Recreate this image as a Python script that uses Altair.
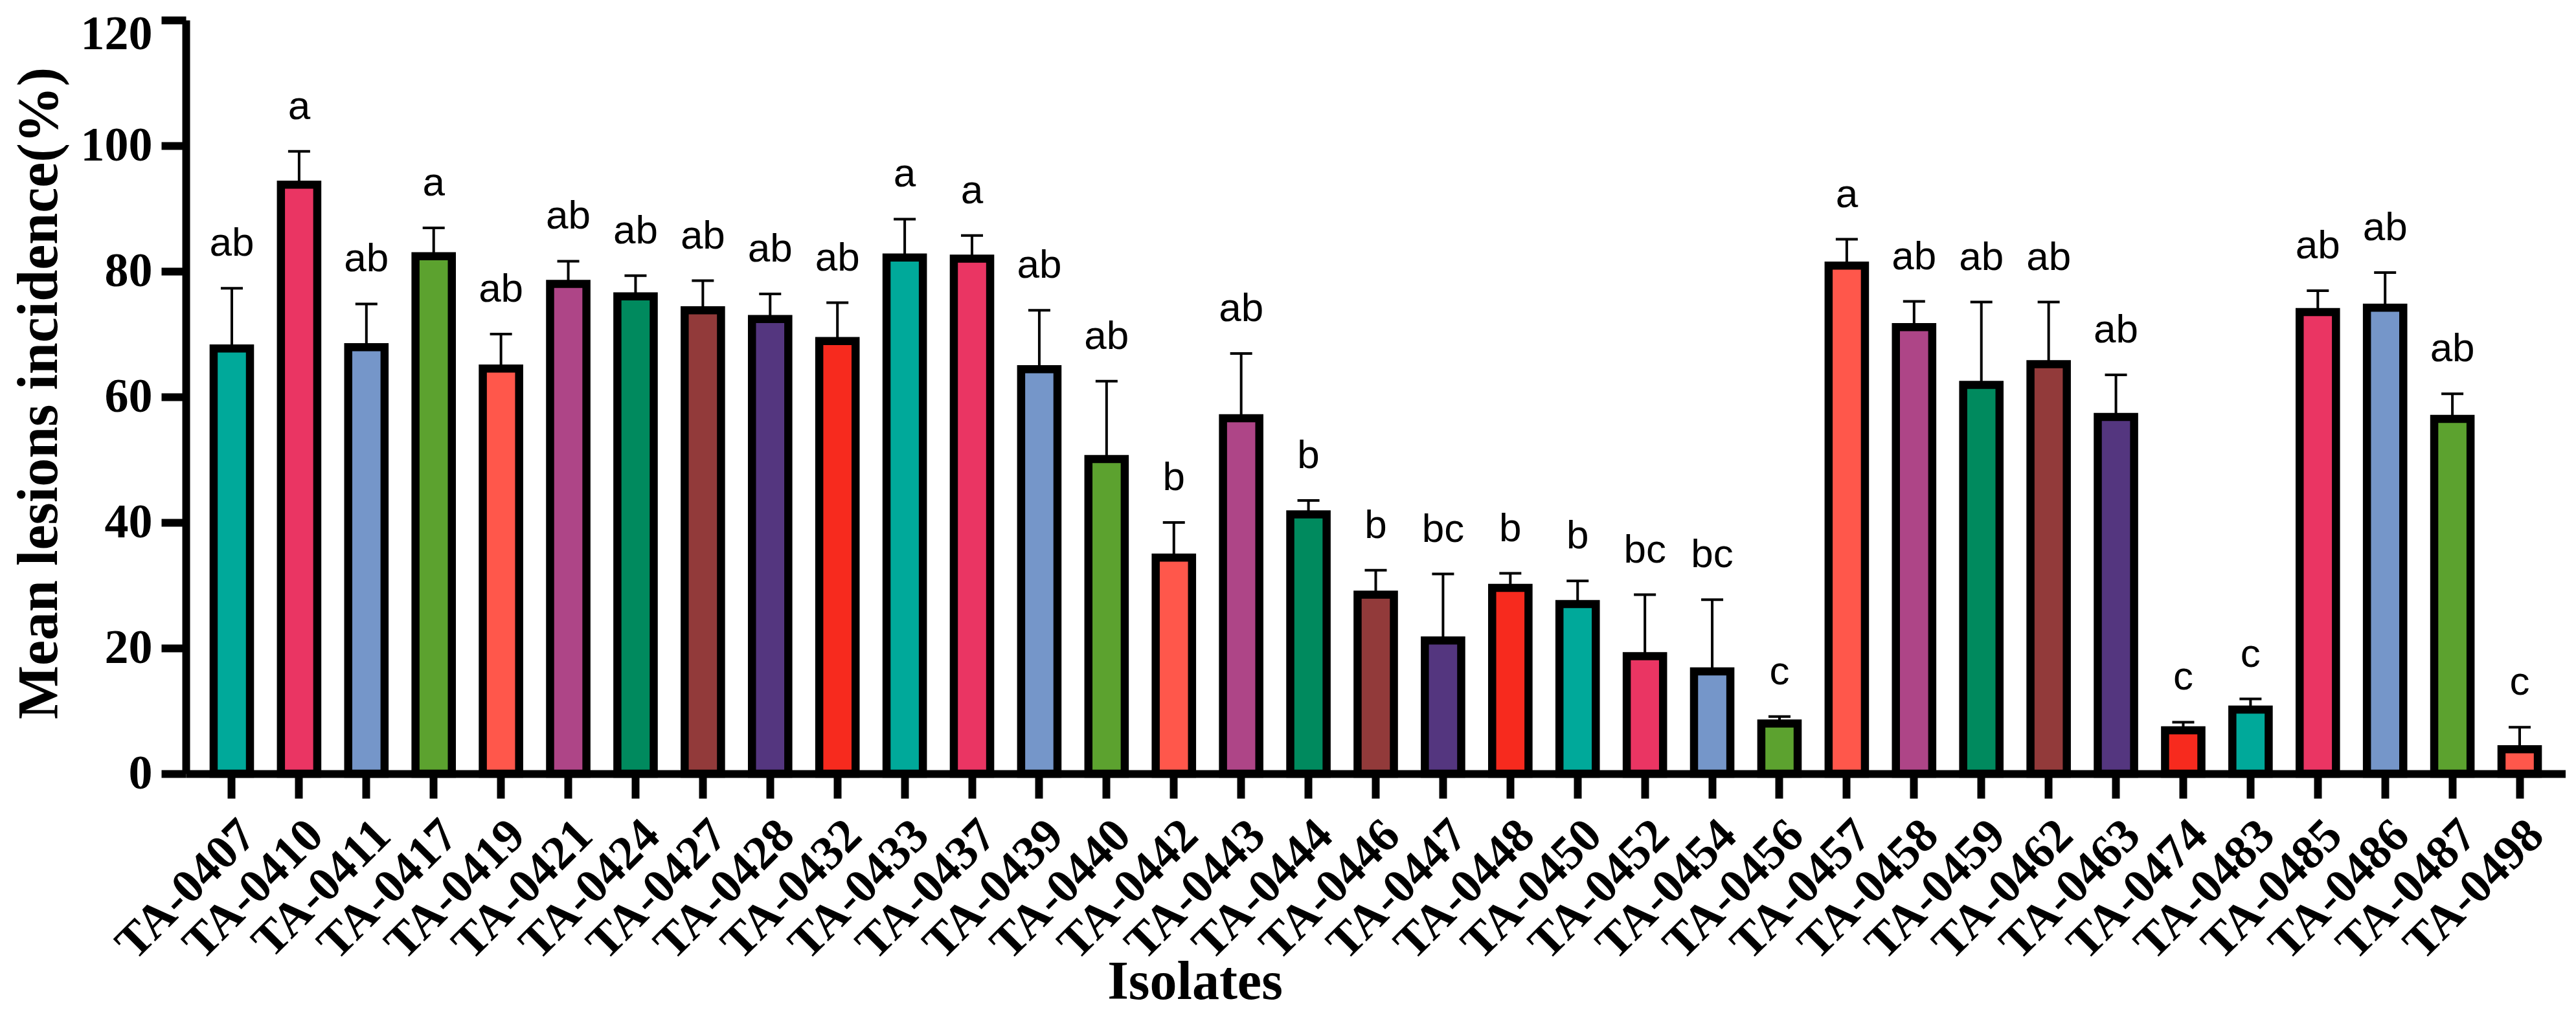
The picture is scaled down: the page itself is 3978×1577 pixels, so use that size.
import altair as alt
import pandas as pd

isolates = ["TA-0407", "TA-0410", "TA-0411", "TA-0417", "TA-0419", "TA-0421", "TA-0424",
            "TA-0427", "TA-0428", "TA-0432", "TA-0433", "TA-0437", "TA-0439", "TA-0440",
            "TA-0442", "TA-0443", "TA-0444", "TA-0446", "TA-0447", "TA-0448", "TA-0450",
            "TA-0452", "TA-0454", "TA-0456", "TA-0457", "TA-0458", "TA-0459", "TA-0462",
            "TA-0463", "TA-0474", "TA-0483", "TA-0485", "TA-0486", "TA-0487", "TA-0498"]

means = [67.7, 93.8, 67.9, 82.4, 64.5, 78.0, 76.0,
         73.8, 72.4, 68.9, 82.2, 82.0, 64.4, 50.1,
         34.4, 56.6, 41.3, 28.5, 21.2, 29.6, 27.0,
         18.7, 16.3, 8.0, 80.9, 71.1, 61.9, 65.2,
         56.8, 6.9, 10.2, 73.5, 74.2, 56.5, 3.9]

sds = [9.6, 5.3, 6.9, 4.5, 5.5, 3.6, 3.3,
       4.7, 4.0, 6.1, 6.1, 3.7, 9.4, 12.4,
       5.6, 10.3, 2.2, 3.9, 10.6, 2.3, 3.7,
       9.8, 11.4, 1.1, 4.2, 4.1, 13.2, 9.9,
       6.7, 1.3, 1.7, 3.4, 5.6, 4.0, 3.5]

letters = ["ab", "a", "ab", "a", "ab", "ab", "ab",
           "ab", "ab", "ab", "a", "a", "ab", "ab",
           "b", "ab", "b", "b", "bc", "b", "b",
           "bc", "bc", "c", "a", "ab", "ab", "ab",
           "ab", "c", "c", "ab", "ab", "ab", "c"]

y_ticks = [0, 20, 40, 60, 80, 100, 120]

palette = ["#00A99A", "#EA3563", "#7596C9", "#5CA22F", "#FF574B",
           "#AE4587", "#008A5E", "#923A3A", "#54367F", "#F72A1E"]
colors = [palette[i % len(palette)] for i in range(len(isolates))]

df = pd.DataFrame({"isolate": isolates, "mean": means, "sd": sds, "letter": letters})
df["top"] = df["mean"] + df["sd"]

W, H = 3675, 1164
SERIF = "Liberation Serif"

x_axis = alt.Axis(
    domainWidth=12, domainColor="black", tickWidth=12, tickSize=38, tickColor="black",
    labelAngle=315, labelAlign="right", labelBaseline="top", labelPadding=20,
    labelFont=SERIF, labelFontWeight="bold", labelFontSize=74, labelColor="black",
    labelLimit=0, labelOverlap=False,
    titleFont=SERIF, titleFontWeight="bold", titleFontSize=84, titleColor="black",
    titleX=1558, titleY=347, titleBaseline="alphabetic", titleAlign="center", grid=False,
)
y_axis = alt.Axis(
    values=y_ticks, domainWidth=12, domainColor="black", tickWidth=12, tickSize=38,
    tickColor="black", labelPadding=14, labelFont=SERIF, labelFontWeight="bold",
    labelFontSize=74, labelColor="black",
    labelOffset={"condition": {"test": "datum.value == 120", "value": 22}, "value": 0},
    titleFont=SERIF, titleFontWeight="bold", titleFontSize=88, titleColor="black",
    titleAngle=270, titleX=-200, titleY=576, titleBaseline="alphabetic",
    titleAlign="center", grid=False,
)

xs = alt.Scale(paddingInner=0.46, paddingOuter=0.413)
ys = alt.Scale(domain=[0, 120], nice=False, zero=True)
TITLE_X = "Isolates"
TITLE_Y = "Mean lesions incidence(%)"


def X():
    return alt.X("isolate:N", sort=isolates, scale=xs, axis=x_axis, title=TITLE_X)


def Y(field):
    return alt.Y(field, scale=ys, axis=y_axis, title=TITLE_Y)


base = alt.Chart(df)

err = base.mark_rule(color="black", strokeWidth=4).encode(
    x=X(), y=Y("mean:Q"), y2="top:Q")

bars = base.mark_bar(stroke="black", strokeWidth=12.5).encode(
    x=X(), y=Y("mean:Q"),
    color=alt.Color("isolate:N", scale=alt.Scale(domain=isolates, range=colors), legend=None))

caps = base.mark_tick(color="black", thickness=4, size=34, opacity=1).encode(
    x=X(), y=Y("top:Q"))

text = base.mark_text(font="Liberation Sans", fontSize=62, dy=-50, baseline="alphabetic",
                      align="center", color="black").encode(
    x=X(), y=Y("top:Q"), text="letter:N")

chart = alt.layer(err, bars, caps, text).properties(
    width=W, height=H,
    padding={"left": 279, "top": 23, "right": 0, "bottom": 366},
    autosize=alt.AutoSizeParams(type="none"),
).configure_view(stroke=None)

chart.save("out.html", embed_options={"renderer": "svg", "actions": False})
